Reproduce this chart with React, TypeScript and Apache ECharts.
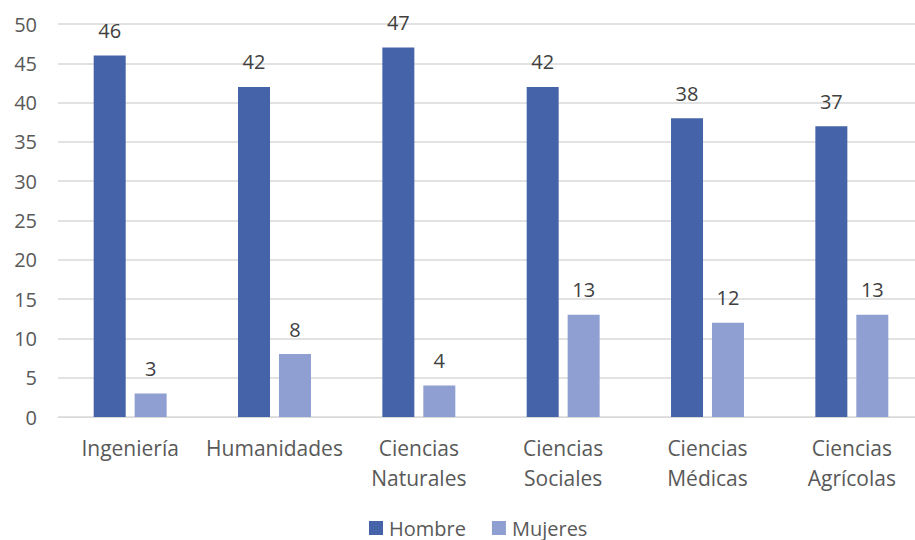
import React, { useEffect, useRef } from "react";
import * as echarts from "echarts";

const categories = [
  "Ingeniería",
  "Humanidades",
  "Ciencias\nNaturales",
  "Ciencias\nSociales",
  "Ciencias\nMédicas",
  "Ciencias\nAgrícolas",
];
const hombre = [46, 42, 47, 42, 38, 37];
const mujeres = [3, 8, 4, 13, 12, 13];
const seriesNames = ["Hombre", "Mujeres"];

const FONT = "'Open Sans', 'Noto Sans', sans-serif";

export default function App() {
  const ref = useRef<HTMLDivElement>(null);
  useEffect(() => {
    if (!ref.current) return;
    const chart = echarts.init(ref.current, undefined, { renderer: "svg" });
    const label = {
      show: true,
      position: "top" as const,
      distance: 15,
      color: "#404040",
      fontSize: 20,
      fontFamily: FONT,
    };
    chart.setOption({
      animation: false,
      grid: { left: 58, top: 24, width: 866, height: 393, containLabel: false },
      legend: {
        top: 513,
        left: 364,
        padding: 5,
        itemWidth: 14,
        itemHeight: 14,
        itemGap: 26,
        icon: "rect",
        textStyle: { color: "#595959", fontSize: 20, fontFamily: FONT, padding: [0, 0, 0, 1] },
        data: seriesNames,
      },
      xAxis: {
        type: "category",
        data: categories,
        axisLine: { lineStyle: { color: "#d9d9d9" } },
        axisTick: { show: false },
        axisLabel: {
          color: "#595959",
          fontSize: 21,
          fontFamily: FONT,
          lineHeight: 30,
          margin: 16,
          interval: 0,
        },
      },
      yAxis: {
        type: "value",
        min: 0,
        max: 50,
        interval: 5,
        axisLine: { show: false },
        axisTick: { show: false },
        splitLine: { lineStyle: { color: "#d9d9d9", width: 1.5 } },
        axisLabel: {
          color: "#595959",
          fontSize: 20,
          fontFamily: FONT,
          margin: 21,
        },
      },
      series: [
        {
          name: seriesNames[0],
          type: "bar",
          data: hombre,
          barWidth: 32,
          barGap: "28%",
          itemStyle: { color: "#4563A9" },
          label,
        },
        {
          name: seriesNames[1],
          type: "bar",
          data: mujeres,
          barWidth: 32,
          itemStyle: { color: "#909FD2" },
          label,
        },
      ],
    });
    return () => chart.dispose();
  }, []);
  return (
    <div
      style={{
        position: "fixed",
        left: 0,
        top: 0,
        width: 915,
        height: 540,
        overflow: "hidden",
        background: "#fff",
      }}
    >
      <div ref={ref} style={{ width: 940, height: 540 }} />
    </div>
  );
}
